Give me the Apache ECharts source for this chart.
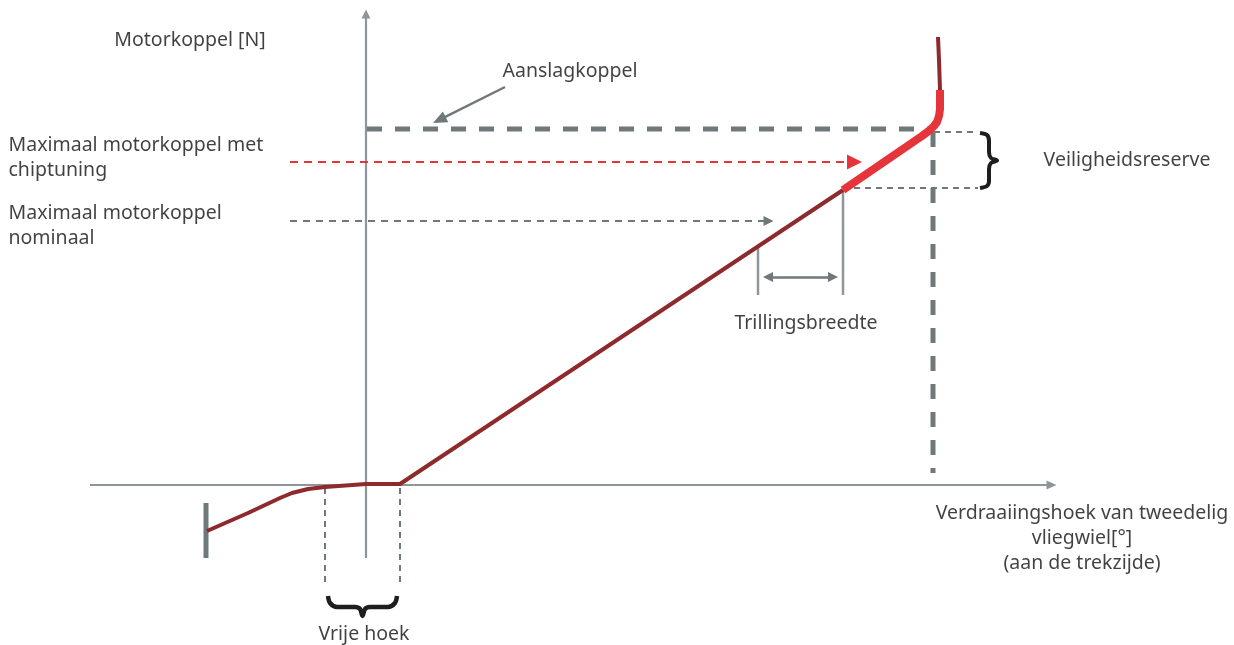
<!DOCTYPE html>
<html>
<head>
<meta charset="utf-8">
<script src="https://cdn.jsdelivr.net/npm/echarts@6/dist/echarts.min.js"></script>
<style>
html,body{margin:0;padding:0;background:#fff;}
#chart{width:1234px;height:645px;}
</style>
</head>
<body>
<div id="chart"></div>
<script>
// ---- data (diagram units: x = twist angle, y = torque) ----
const xAxisLine = [[-27.6, 0], [68.55, 0]];
const yAxisLine = [[0, -7.3], [0, 47.1]];
const torqueCurve = [[-15.9, -4.6], [-11.8, -2.8], [-8.6, -1.3], [-7.4, -0.8], [-5.8, -0.4], [-4.1, -0.2], [0, 0.1], [3.4, 0.1], [47.7, 29.5]];
const tunedCurve = [[47.7, 29.5], [55.6, 34.9], [56.4, 35.5], [56.8, 35.9], [57.1, 36.3], [57.3, 36.9], [57.4, 37.6], [57.4, 39.5]];
const stopCurve = [[57.4, 39.5], [57.3, 42.5], [57.2, 44.8]];
const stopBar = [[-16.0, -1.8], [-16.0, -7.3]];
const stopTorqueLine = [[0.1, 35.6], [56.4, 35.6]];
const stopAngleLine = [[56.7, 35.3], [56.7, 1.2]];
const reserveTop = [[56.8, 35.3], [61.2, 35.3]];
const reserveBottom = [[47.7, 29.7], [61.2, 29.7]];
const tunedArrow = [[-7.6, 32.3], [48.85, 32.3]];
const nominalArrow = [[-7.6, 26.4], [40.25, 26.4]];
const stopLabelArrow = [[13.9, 39.8], [7.33, 36.51]];
const vibLeft = [[39.2, 23.8], [39.2, 19.0]];
const vibRight = [[47.7, 29.5], [47.7, 19.0]];
const vibArrow = [[40.2, 20.8], [46.7, 20.8]];
const freeLeft = [[-4.1, -0.3], [-4.1, -9.8]];
const freeRight = [[3.4, -0.3], [3.4, -9.8]];
const freeBrace = [[-3.8, -11.1], [-3.6, -11.8], [-2.9, -12.2], [-1.1, -12.2], [-0.6, -12.4], [-0.35, -13.1], [-0.1, -12.4], [0.4, -12.2], [2.2, -12.2], [2.9, -11.8], [3.1, -11.1]];
const reserveBrace = [[61.4, 35.2], [62.1, 35.0], [62.3, 34.4], [62.3, 33.3], [62.5, 32.7], [63.1, 32.45], [62.5, 32.2], [62.3, 31.6], [62.3, 30.4], [62.1, 29.9], [61.4, 29.7]];
const labelTexts = ['Motorkoppel [N]', 'Aanslagkoppel', 'Maximaal motorkoppel met\nchiptuning', 'Maximaal motorkoppel\nnominaal', 'Veiligheidsreserve', 'Trillingsbreedte', 'Verdraaiingshoek van tweedelig\nvliegwiel[°]\n(aan de trekzijde)', 'Vrije hoek'];
const labelPoints = [[-17.6, 44.5], [20.4, 41.4], [-35.8, 32.75], [-35.8, 25.95], [76.1, 32.5], [44.0, 16.2], [71.6, -5.3], [-0.2, -14.9]];
const labelAligns = ['center', 'center', 'left', 'left', 'center', 'center', 'center', 'center'];

// ---- styles ----
const DARK_RED = '#8e2a2c';
const RED = '#e6343b';
const GRAY = '#6f787b';
const AXIS_GRAY = '#8e969a';
const FONT = 'Noto Sans';

function path(data, color, width, opts) {
  opts = opts || {};
  return {
    type: 'line', data: data, symbol: 'none', silent: true, animation: false,
    smooth: opts.smooth || false, z: opts.z || 2,
    lineStyle: { color: color, width: width, type: opts.dash || 'solid', cap: opts.cap || 'butt', join: 'round' }
  };
}
function arrow(data, color, width, opts) {
  opts = opts || {};
  return {
    type: 'line', data: [], silent: true, animation: false, z: opts.z || 3,
    markLine: {
      silent: true, animation: false,
      symbol: opts.symbol || ['none', 'triangle'],
      symbolSize: opts.size || [10, 12],
      label: { show: false },
      lineStyle: { color: color, width: width, type: opts.dash || 'solid', opacity: 1 },
      emphasis: { disabled: true },
      data: [[{ coord: data[0] }, { coord: data[1] }]]
    }
  };
}

const labelSeries = {
  type: 'scatter', silent: true, animation: false, z: 10,
  symbolSize: 1, itemStyle: { color: 'rgba(0,0,0,0)' },
  data: labelPoints.map(function (p, i) {
    return {
      value: p,
      label: {
        show: true,
        formatter: labelTexts[i],
        position: labelAligns[i] === 'left' ? 'right' : 'inside',
        distance: 0,
        align: labelAligns[i],
        verticalAlign: 'middle',
        color: '#111111',
        fontFamily: FONT,
        fontSize: 19.5,
        lineHeight: 25
      }
    };
  })
};

const chart = echarts.init(document.getElementById('chart'), null, { renderer: 'canvas' });
chart.setOption({
  animation: false,
  backgroundColor: '#ffffff',
  grid: { left: 0, right: 0, top: 0, bottom: 0 },
  xAxis: { type: 'value', min: -36.6, max: 86.8, show: false },
  yAxis: { type: 'value', min: -16.0, max: 48.5, show: false },
  series: [
    arrow(xAxisLine, AXIS_GRAY, 2.2, { size: [9, 10], z: 1 }),
    arrow(yAxisLine, AXIS_GRAY, 2.2, { size: [9, 9], z: 1 }),
    path(freeLeft, GRAY, 2, { dash: [6, 5] }),
    path(freeRight, GRAY, 2, { dash: [6, 5] }),
    path(stopTorqueLine, GRAY, 5, { dash: [15, 13] }),
    path(stopAngleLine, GRAY, 5, { dash: [15, 13] }),
    path(reserveTop, GRAY, 2, { dash: [6, 5] }),
    path(reserveBottom, GRAY, 2, { dash: [6, 5] }),
    path(vibLeft, AXIS_GRAY, 2.5),
    path(vibRight, AXIS_GRAY, 2.5),
    arrow(vibArrow, GRAY, 2.5, { symbol: ['triangle', 'triangle'], size: [10, 10] }),
    arrow(tunedArrow, RED, 2, { dash: [8, 6], size: [15, 15] }),
    arrow(nominalArrow, GRAY, 2, { dash: [7, 6], size: [10, 10] }),
    arrow(stopLabelArrow, GRAY, 2.5, { size: [12, 14] }),
    path(stopBar, GRAY, 5, { z: 4 }),
    path(torqueCurve, DARK_RED, 4, { z: 5 }),
    path(tunedCurve, RED, 8, { z: 6 }),
    path(stopCurve, DARK_RED, 4, { z: 5 }),
    path(freeBrace, '#1e1e1e', 4.5, { smooth: 0.3, z: 5 }),
    path(reserveBrace, '#1e1e1e', 4, { smooth: 0.3, z: 5 }),
    labelSeries
  ]
});
</script>
</body>
</html>
